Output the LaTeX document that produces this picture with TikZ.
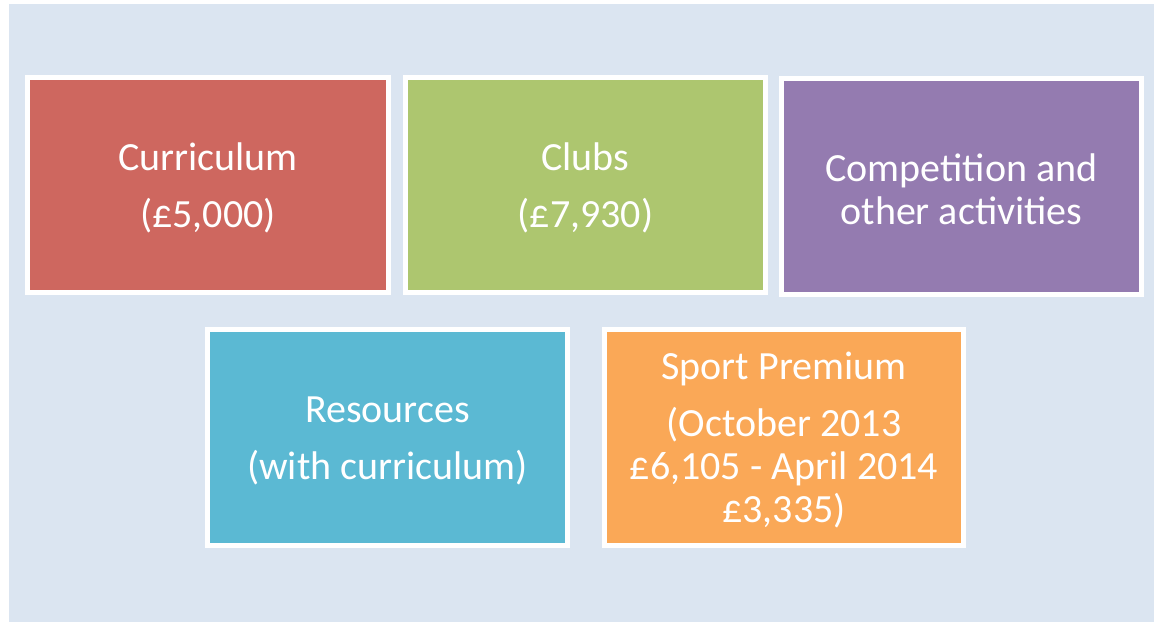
\documentclass[tikz,border=0pt]{standalone}
\usepackage{fontspec}
\setmainfont{Carlito}
\definecolor{bgblue}{RGB}{219,229,241}
\definecolor{cred}{RGB}{206,103,95}
\definecolor{cgreen}{RGB}{173,198,111}
\definecolor{cpurple}{RGB}{148,123,176}
\definecolor{cblue}{RGB}{91,185,211}
\definecolor{corange}{RGB}{250,168,87}
\begin{document}
\begin{tikzpicture}[x=1pt,y=-1pt,
  card/.style={draw=white, line width=5pt, inner sep=0pt, outer sep=0pt,
    minimum width=360pt, minimum height=216pt},
  cardtext/.style={inner sep=0pt, align=center, text=white,
    font=\fontsize{40}{43}\selectfont}]
\useasboundingbox (0,0) rectangle (1154,622);
\fill[bgblue] (9,4) rectangle (1154,622);
\node[card, fill=cred, minimum width=361pt, minimum height=215pt] (curr) at (208,185) {};
\node[card, fill=cgreen, minimum height=215pt] (clubs) at (585.5,185) {};
\node[card, fill=cpurple] (comp) at (961.5,186.5) {};
\node[card, fill=cblue] (res) at (387.5,437.5) {};
\node[card, fill=corange, minimum width=359pt] (sport) at (784,437.5) {};
\node[cardtext] (currt) at ([yshift=-3pt]curr.center) {Curriculum\\[14pt](£5,000)};
\node[cardtext] (clubst) at ([yshift=-3pt]clubs.center) {Clubs\\[14pt](£7,930)};
\node[cardtext] (compt) at ([yshift=-3pt]comp.center) {Competition and\\other activities};
\node[cardtext] (rest) at ([yshift=-3pt]res.center) {Resources\\[14pt](with curriculum)};
\node[cardtext] (sportt) at ([yshift=-3pt]sport.center) {Sport Premium\\[14pt](October 2013\\£6,105 - April 2014\\£3,335)};
\end{tikzpicture}
\end{document}
